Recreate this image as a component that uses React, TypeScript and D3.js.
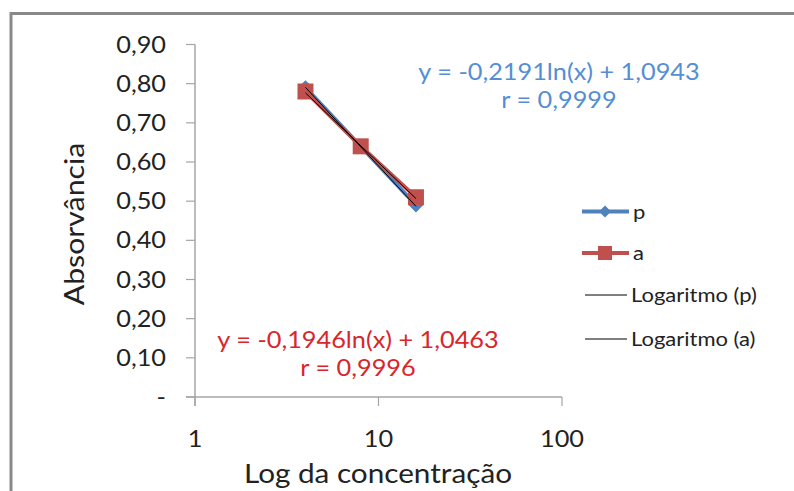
import React, { useRef, useEffect } from "react";
import * as d3 from "d3";

// concentrations (x) and absorbances (y)
const concentrations = [4, 8, 16];
const seriesP = [0.79, 0.64, 0.49];
const seriesA = [0.78, 0.64, 0.51];

const yTicks = [0, 0.1, 0.2, 0.3, 0.4, 0.5, 0.6, 0.7, 0.8, 0.9];
const xTicks = [1, 10, 100];

// logarithmic trendlines y = k ln(x) + c
const fitP = [-0.2191, 1.0943];
const fitA = [-0.1946, 1.0463];

const eqP = ["y = -0,2191ln(x) + 1,0943", "r = 0,9999"];
const eqA = ["y = -0,1946ln(x) + 1,0463", "r = 0,9996"];

const legendLabels = ["p", "a", "Logaritmo (p)", "Logaritmo (a)"];

const BLUE = "#4F81BD";
const RED = "#C0504D";
const FONT = "Lato, 'Open Sans', sans-serif";
const STRETCH = 1.1; // the original glyphs are a little wider than Lato

const App = () => {
  const ref = useRef<SVGSVGElement>(null);

  useEffect(() => {
    const svg = d3.select(ref.current);
    svg.selectAll("*").remove();

    const x = d3.scaleLog().domain([1, 100]).range([195, 562]);
    const y = d3.scaleLinear().domain([0, 0.9]).range([397, 44.5]);

    const label = (g: any, tx: number, ty: number, txt: string, size: number,
      anchor = "start", fill = "#222", rot = 0) =>
      g.append("text")
        .attr("transform", `translate(${tx},${ty}) rotate(${rot}) scale(${STRETCH},1)`)
        .attr("text-anchor", anchor)
        .attr("font-family", FONT).attr("font-size", size)
        .attr("fill", fill)
        .text(txt);

    // outer frame
    svg.append("rect")
      .attr("x", 11).attr("y", 13.5)
      .attr("width", 900).attr("height", 600)
      .attr("fill", "white")
      .attr("stroke", "#898989").attr("stroke-width", 3);

    // y axis
    const yAxis = svg.append("g");
    yAxis.append("line")
      .attr("x1", 195).attr("x2", 195)
      .attr("y1", y(0.9)).attr("y2", y(0) + 9)
      .attr("stroke", "#A6A6A6").attr("stroke-width", 1.5);
    yAxis.selectAll(".yt").data(yTicks).enter().append("line")
      .attr("x1", 186).attr("x2", 195)
      .attr("y1", d => y(d)).attr("y2", d => y(d))
      .attr("stroke", "#A6A6A6").attr("stroke-width", 1.2);
    yTicks.forEach(d => {
      label(yAxis, 166, y(d) + 8, d === 0 ? "-" : d3.format(".2f")(d).replace(".", ","), 23, "end");
    });

    // x axis
    const xAxis = svg.append("g");
    xAxis.append("line")
      .attr("x1", 186).attr("x2", 562)
      .attr("y1", 397).attr("y2", 397)
      .attr("stroke", "#A6A6A6").attr("stroke-width", 1.5);
    xAxis.selectAll(".xt").data(xTicks).enter().append("line")
      .attr("x1", d => x(d)).attr("x2", d => x(d))
      .attr("y1", 397).attr("y2", 406)
      .attr("stroke", "#A6A6A6").attr("stroke-width", 1.2);
    xTicks.forEach(d => label(xAxis, x(d), 447, String(d), 23, "middle"));

    // axis titles
    label(svg, 84, 224, "Absorvância", 27.5, "middle", "#222", -90);
    label(svg, 378, 483, "Log da concentração", 27, "middle");

    const line = d3.line<[number, number]>().x(d => x(d[0])).y(d => y(d[1]));
    const ptsP: [number, number][] = concentrations.map((c, i) => [c, seriesP[i]]);
    const ptsA: [number, number][] = concentrations.map((c, i) => [c, seriesA[i]]);

    // series p
    svg.append("path").attr("d", line(ptsP))
      .attr("fill", "none").attr("stroke", BLUE).attr("stroke-width", 4);
    svg.selectAll(".dp").data(ptsP).enter().append("path")
      .attr("d", d3.symbol().type(d3.symbolDiamond2).size(140)())
      .attr("transform", d => `translate(${x(d[0])},${y(d[1])})`)
      .attr("fill", BLUE);

    // series a
    svg.append("path").attr("d", line(ptsA))
      .attr("fill", "none").attr("stroke", RED).attr("stroke-width", 4);
    svg.selectAll(".sa").data(ptsA).enter().append("rect")
      .attr("x", d => x(d[0]) - 8).attr("y", d => y(d[1]) - 8)
      .attr("width", 16).attr("height", 16)
      .attr("fill", RED);

    // trendlines
    const ends = [concentrations[0], concentrations[concentrations.length - 1]];
    [fitP, fitA].forEach(f => {
      const pts: [number, number][] = ends.map(c => [c, f[0] * Math.log(c) + f[1]]);
      svg.append("path").attr("d", line(pts))
        .attr("fill", "none").attr("stroke", "black").attr("stroke-width", 1);
    });

    // equations
    const eq = (lines: string[], cx: number, y0: number, color: string) => {
      lines.forEach((t, i) => label(svg, cx, y0 + i * 28, t, 23, "middle", color));
    };
    eq(eqP, 559, 80, "#558ED5");
    eq(eqA, 358, 348, "#D8262B");

    // legend
    const lg = svg.append("g");
    const rows = [211.5, 253, 295, 339];
    lg.append("line").attr("x1", 582).attr("x2", 629).attr("y1", rows[0]).attr("y2", rows[0])
      .attr("stroke", BLUE).attr("stroke-width", 4);
    lg.append("path")
      .attr("d", d3.symbol().type(d3.symbolDiamond2).size(90)())
      .attr("transform", `translate(605,${rows[0]})`).attr("fill", BLUE);
    lg.append("line").attr("x1", 582).attr("x2", 629).attr("y1", rows[1]).attr("y2", rows[1])
      .attr("stroke", RED).attr("stroke-width", 4);
    lg.append("rect").attr("x", 598).attr("y", rows[1] - 7).attr("width", 14).attr("height", 14)
      .attr("fill", RED);
    [rows[2], rows[3]].forEach(r => {
      lg.append("line").attr("x1", 585).attr("x2", 627).attr("y1", r).attr("y2", r)
        .attr("stroke", "black").attr("stroke-width", 1);
    });
    legendLabels.forEach((d, i) => label(lg, i < 2 ? 633 : 631, rows[i] + 7, d, 20));
  }, []);

  return (
    <div style={{ position: "absolute", left: 0, top: 0 }}>
      <svg ref={ref} width={794} height={491} style={{ display: "block", background: "white" }} />
    </div>
  );
};

export default App;
